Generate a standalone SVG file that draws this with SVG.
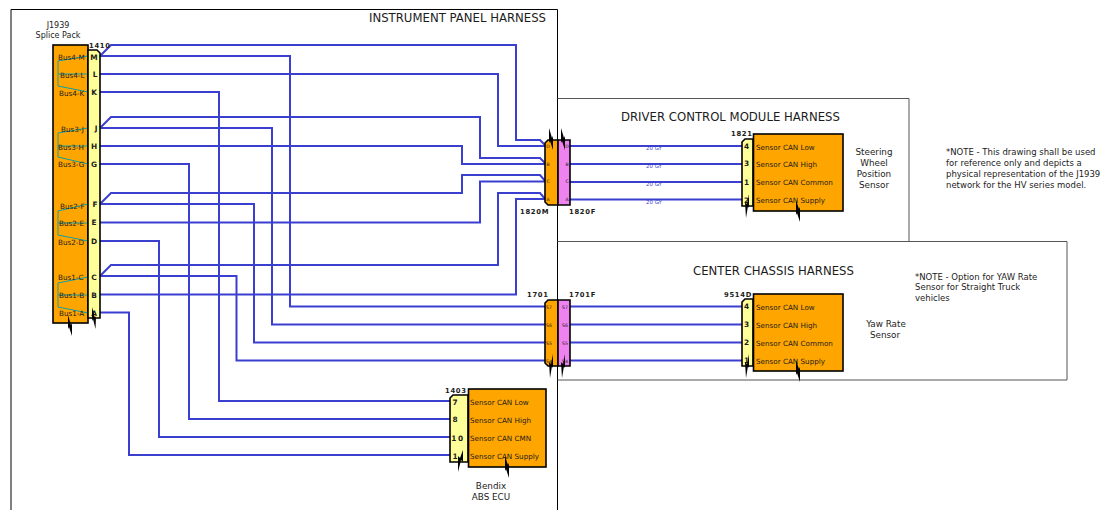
<svg xmlns="http://www.w3.org/2000/svg" width="1102" height="510" viewBox="0 0 1102 510">
<defs>
<style>
text{font-family:"DejaVu Sans",Verdana,sans-serif;fill:#1c1c1c}
.w{fill:none;stroke:#3b3fd0;stroke-width:2}
.j{fill:none;stroke:#12a0a0;stroke-width:1}
.f{fill:none;stroke:#555;stroke-width:1}
.o{fill:#ffa500;stroke:#000;stroke-width:1.6}
.y{fill:#ffff99;stroke:#000;stroke-width:1.6}
.p{fill:#ee82ee;stroke:#000;stroke-width:1.6}
.z{fill:#000;stroke:none}
.t{font-size:11.7px}
.s{font-size:8.8px;text-anchor:middle}
.n{font-size:8.5px}
.b{font-size:7.2px}
.c{font-size:6.8px;font-weight:bold;letter-spacing:.7px}
.pin{font-size:7.4px;font-weight:bold;text-anchor:middle}
.tiny{font-size:4.6px;text-anchor:middle}
.gy{font-size:5.4px;fill:#3b3fd0;text-anchor:middle}
</style>
</defs>

<g id="frames">
<path d="M11 510 V9.500 H557.500 V510" fill="none" stroke="#000" stroke-width="1"/>
<path class="f" d="M557.500 98.500 H909 V241.500"/>
<path class="f" d="M557.500 241.500 H1067 V380 H557.500"/>
<text class="t" x="369" y="22">INSTRUMENT PANEL HARNESS</text>
<text class="t" x="621" y="121">DRIVER CONTROL MODULE HARNESS</text>
<text class="t" x="693" y="275">CENTER CHASSIS HARNESS</text>
</g>

<g id="connectors">
<path class="w" d="M100 56 L111 45 H516 V140 H540 L546 146"/>
<path class="w" d="M100 56 H290 V306.500 H546"/>
<path class="w" d="M100 74 H498 V146 H546"/>
<path class="w" d="M100 92 H219 V401 H450"/>
<path class="w" d="M100 128 L111 117 H480 V158 H540 L546 164"/>
<path class="w" d="M100 128 H272 V324.500 H546"/>
<path class="w" d="M100 146 H462 V164 H546"/>
<path class="w" d="M100 164 H189 V419 H450"/>
<path class="w" d="M100 204 L111 193 H462 V175 H540 L546 182"/>
<path class="w" d="M100 204 H254 V342.500 H546"/>
<path class="w" d="M100 222.500 H480 V181.500 H546"/>
<path class="w" d="M100 241 H159 V437 H450"/>
<path class="w" d="M100 276 L111 265 H498 V193 H540 L546 200"/>
<path class="w" d="M100 276 H236.500 V360.500 H546"/>
<path class="w" d="M100 294.500 H516 V199 H546"/>
<path class="w" d="M100 312.500 H129 V455 H450"/>
<path class="w" d="M570 146 H742 M570 164 H742 M570 182 H742 M570 199.500 H742"/>
<path class="w" d="M570 306.500 H742 M570 324.500 H742 M570 342.500 H742 M570 360.500 H742"/>
<text class="gy" x="654" y="150">20 GY</text>
<text class="gy" x="654" y="168">20 GY</text>
<text class="gy" x="654" y="186">20 GY</text>
<text class="gy" x="654" y="204">20 GY</text>
</g>

<g id="J1939">
<rect class="o" x="53" y="45" width="35" height="278"/>
<path class="j" d="M88 56 L58 61 V86 L88 92 M58 74 H88 M88 128 L58 133 V157 L88 164 M58 146 H88 M88 204 L58 211 V235 L88 241 M58 223 H88 M88 277 L58 283 V307 L88 313 M58 295 H88"/>
<text class="s" x="58" y="28" style="font-size:8px">J1939</text>
<text class="s" x="58" y="38" style="font-size:8px">Splice Pack</text>
<text class="b" x="58" y="60">Bus4-M</text>
<text class="b" x="60" y="78">Bus4-L</text>
<text class="b" x="59" y="96">Bus4-K</text>
<text class="b" x="61" y="132">Bus3-J</text>
<text class="b" x="58" y="150">Bus3-H</text>
<text class="b" x="58" y="167">Bus3-G</text>
<text class="b" x="60" y="209">Bus2-F</text>
<text class="b" x="59" y="226">Bus2-E</text>
<text class="b" x="58" y="245">Bus2-D</text>
<text class="b" x="58" y="280">Bus1-C</text>
<text class="b" x="59" y="298">Bus1-B</text>
<text class="b" x="59" y="316">Bus1-A</text>
<path class="z" d="M68 315 L71 325 L72 323 L72 336 L69 327 L68 329 Z"/>
</g>

<g id="c1410">
<path class="y" d="M88 50 H97 L100 53 V318 H88 Z"/>
<text class="c" x="89" y="48">1410</text>
<text class="pin" x="94" y="60">M</text><text class="pin" x="95" y="77">L</text><text class="pin" x="94" y="95">K</text>
<text class="pin" x="96" y="131">J</text><text class="pin" x="94" y="149">H</text><text class="pin" x="94" y="167">G</text>
<text class="pin" x="95" y="207">F</text><text class="pin" x="94" y="225">E</text><text class="pin" x="94" y="244">D</text>
<text class="pin" x="94" y="280">C</text><text class="pin" x="94" y="298">B</text><text class="pin" x="94" y="316">A</text>
<path class="z" d="M92 307 L95 318 L96 316 L95.500 329 L93 319 L92 321 Z"/>
</g>

<g id="c1820M">
<path class="o" d="M548 140 H558 V205 H548 L545 202 V143 Z"/>
<text class="tiny" x="548" y="148">D</text><text class="tiny" x="548" y="165.500">B</text><text class="tiny" x="548" y="183">C</text><text class="tiny" x="548" y="201">A</text>
<text class="c" x="520" y="214">1820M</text>
<path class="z" d="M549 128 L552 138 L553 136 L553 150 L550 141 L549 143 Z"/>
</g>
<g id="c1820F">
<path class="p" d="M558 140 H570 V205 H558 Z"/>
<text class="tiny" x="567" y="148">D</text><text class="tiny" x="567" y="165.500">B</text><text class="tiny" x="567" y="183">C</text><text class="tiny" x="567" y="201">A</text>
<text class="c" x="569" y="214">1820F</text>
<path class="z" d="M561 128 L564 138 L565 136 L565 150 L562 141 L561 143 Z"/>
</g>

<g id="c1701">
<path class="o" d="M548 300 H558 V366 H548 L545 363 V303 Z"/>
<text class="tiny" x="549" y="308.500">S7</text><text class="tiny" x="549" y="326.500">S6</text><text class="tiny" x="549" y="344.500">S5</text><text class="tiny" x="549" y="362.500">S4</text>
<text class="c" x="527" y="297">1701</text>
<path class="z" d="M553 354 L553 368 L552 366 L550 378 L549 362 L551 364 Z"/>
</g>
<g id="c1701F">
<path class="p" d="M558 300 H570 V366 H558 Z"/>
<text class="tiny" x="565" y="308.500">S7</text><text class="tiny" x="565" y="326.500">S6</text><text class="tiny" x="565" y="344.500">S5</text><text class="tiny" x="565" y="362.500">S4</text>
<text class="c" x="569" y="297">1701F</text>
<path class="z" d="M565 354 L565 368 L564 366 L562 378 L561 362 L563 364 Z"/>
</g>

<g id="c1821">
<path class="y" d="M745 139 H753 V206 H742 V142 Z"/>
<text class="c" x="731" y="136">1821</text>
<text class="pin" x="746.500" y="149">4</text><text class="pin" x="746.500" y="166">3</text><text class="pin" x="746.500" y="185">1</text><text class="pin" x="746.500" y="203">2</text>
<path class="z" d="M749 194 L749 208 L748 206 L746 218 L745 202 L747 204 Z"/>
</g>
<g id="steering">
<rect class="o" x="753.500" y="134" width="89.500" height="77"/>
<text class="b" x="756" y="150">Sensor CAN Low</text>
<text class="b" x="756" y="167">Sensor CAN High</text>
<text class="b" x="756" y="185">Sensor CAN Common</text>
<text class="b" x="756" y="203">Sensor CAN Supply</text>
<path class="z" d="M796 200 L799 209 L800 207 L800 222 L797 213 L796 215 Z"/>
<text class="s" x="874" y="155">Steering</text>
<text class="s" x="874" y="166">Wheel</text>
<text class="s" x="874" y="177">Position</text>
<text class="s" x="874" y="188">Sensor</text>
</g>

<g id="c9514D">
<path class="y" d="M745 299 H753 V366 H742 V302 Z"/>
<text class="c" x="724" y="297">9514D</text>
<text class="pin" x="746.500" y="309">4</text><text class="pin" x="746.500" y="327">3</text><text class="pin" x="746.500" y="345">2</text><text class="pin" x="746.500" y="363">1</text>
<path class="z" d="M749 354 L749 368 L748 366 L746 378 L745 362 L747 364 Z"/>
</g>
<g id="yaw">
<rect class="o" x="753.500" y="294" width="89.500" height="77"/>
<text class="b" x="756" y="310">Sensor CAN Low</text>
<text class="b" x="756" y="328">Sensor CAN High</text>
<text class="b" x="756" y="346">Sensor CAN Common</text>
<text class="b" x="756" y="364">Sensor CAN Supply</text>
<path class="z" d="M796 360 L799 369 L800 367 L800 382 L797 373 L796 375 Z"/>
<text class="s" x="886" y="327">Yaw Rate</text>
<text class="s" x="885" y="338">Sensor</text>
</g>

<g id="c1403">
<path class="y" d="M453 395 H468 V462 H450 V398 Z"/>
<text class="c" x="445" y="393">1403</text>
<text class="pin" x="455" y="405">7</text><text class="pin" x="455" y="422">8</text><text class="pin" x="458" y="441" style="letter-spacing:1.5px">10</text><text class="pin" x="455" y="459">1</text>
<path class="z" d="M463 450 L463 462 L461 460 L458 472 L458 456 L460 458 Z"/>
</g>
<g id="bendix">
<rect class="o" x="468.500" y="389" width="77.500" height="78"/>
<text class="b" x="470" y="405">Sensor CAN Low</text>
<text class="b" x="470" y="423">Sensor CAN High</text>
<text class="b" x="470" y="441">Sensor CAN CMN</text>
<text class="b" x="470" y="459">Sensor CAN Supply</text>
<path class="z" d="M505 456 L508 465 L509 463 L509 478 L506 469 L505 471 Z"/>
<text class="s" x="491" y="489">Bendix</text>
<text class="s" x="491" y="500">ABS ECU</text>
</g>

<g id="notes">
<text class="n" x="946" y="155">*NOTE - This drawing shall be used</text>
<text class="n" x="946" y="166">for reference only and depicts a</text>
<text class="n" x="946" y="177">physical representation of the J1939</text>
<text class="n" x="946" y="188">network for the HV series model.</text>
<text class="n" x="915" y="280">*NOTE - Option for YAW Rate</text>
<text class="n" x="915" y="290">Sensor for Straight Truck</text>
<text class="n" x="915" y="301">vehicles</text>
</g>
</svg>
